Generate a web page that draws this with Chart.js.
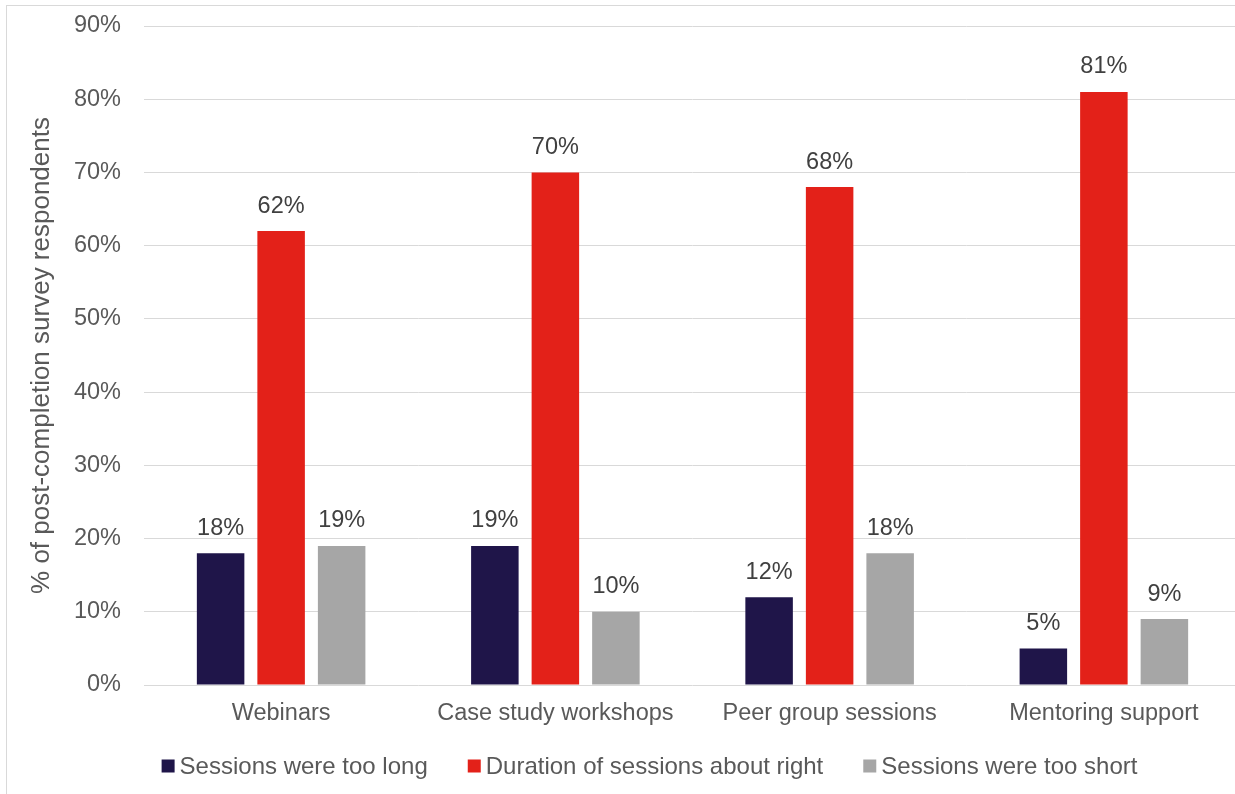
<!DOCTYPE html>
<html>
<head>
<meta charset="utf-8">
<script src="https://cdn.jsdelivr.net/npm/chart.js@4/dist/chart.umd.min.js"></script>
<style>
  html, body { margin: 0; padding: 0; background: #ffffff; overflow: hidden; width: 1235px; height: 794px; }
  #frame {
    position: absolute; left: 6px; top: 5px;
    border-left: 1px solid #d9d9d9; border-top: 1px solid #d9d9d9;
    width: 1285px; height: 789px;
  }
  #wrap { position: relative; width: 1285px; height: 789px; }
</style>
</head>
<body>
<div id="frame"><div id="wrap"><canvas id="chart"></canvas></div></div>
<script>
// Session formats surveyed
const categories = ['Webinars', 'Case study workshops', 'Peer group sessions', 'Mentoring support'];

// Share of post-completion survey respondents (%)
const tooLong    = [18, 19, 12, 5];
const aboutRight = [62, 70, 68, 81];
const tooShort   = [19, 10, 18, 9];

const seriesNames = ['Sessions were too long', 'Duration of sessions about right', 'Sessions were too short'];
const seriesColors = ['#1f1549', '#e32119', '#a6a6a6'];

const yTicks = [0, 10, 20, 30, 40, 50, 60, 70, 80, 90];

const FONT = '"Liberation Sans", Arial, sans-serif';

// Percentage labels above each bar
const valueLabels = {
  id: 'valueLabels',
  afterDatasetsDraw(chart) {
    const ctx = chart.ctx;
    ctx.save();
    ctx.font = '23.5px ' + FONT;
    ctx.fillStyle = '#404040';
    ctx.textAlign = 'center';
    ctx.textBaseline = 'middle';
    chart.data.datasets.forEach((ds, i) => {
      const meta = chart.getDatasetMeta(i);
      meta.data.forEach((bar, j) => {
        ctx.fillText(ds.data[j] + '%', bar.x, bar.y - 25);
      });
    });
    ctx.restore();
  }
};

// Legend row centred under the chart
const bottomLegend = {
  id: 'bottomLegend',
  afterDraw(chart) {
    const ctx = chart.ctx;
    const box = 13, textGap = 5, itemGap = 40;
    ctx.save();
    ctx.font = '24px ' + FONT;
    const widths = chart.data.datasets.map(ds => ctx.measureText(ds.label).width);
    const total = widths.reduce((a, w) => a + box + textGap + w, 0) + itemGap * (widths.length - 1);
    let x = chart.width / 2 - total / 2;
    const y = chart.scales.x.bottom + 39;
    ctx.textBaseline = 'middle';
    ctx.textAlign = 'left';
    chart.data.datasets.forEach((ds, i) => {
      ctx.fillStyle = ds.backgroundColor;
      ctx.fillRect(x, y - box / 2, box, box);
      ctx.fillStyle = '#595959';
      ctx.fillText(ds.label, x + box + textGap, y + 1);
      x += box + textGap + widths[i] + itemGap;
    });
    ctx.restore();
  }
};

const datasets = [tooLong, aboutRight, tooShort].map((values, i) => ({
  label: seriesNames[i],
  data: values,
  backgroundColor: seriesColors[i],
  borderWidth: 0,
  categoryPercentage: 0.662,
  barPercentage: 0.785
}));

new Chart(document.getElementById('chart'), {
  type: 'bar',
  data: { labels: categories, datasets },
  options: {
    responsive: true,
    maintainAspectRatio: false,
    animation: false,
    layout: { padding: { left: 10, right: 51, top: 20, bottom: 68 } },
    plugins: {
      legend: { display: false },
      tooltip: { enabled: false }
    },
    scales: {
      x: {
        afterFit(scale) { scale.height = 42; },
        grid: { display: false, drawTicks: false },
        border: { display: false },
        ticks: {
          color: '#595959',
          font: { family: FONT, size: 23.5 },
          padding: 14,
          maxRotation: 0
        }
      },
      y: {
        min: 0,
        max: 90,
        afterFit(scale) {
          scale.width = 127;
          scale.paddingTop = 0;
          scale.paddingBottom = 0;
        },
        afterBuildTicks(scale) { scale.ticks = yTicks.map(v => ({ value: v })); },
        grid: { color: '#d9d9d9', lineWidth: 1, drawTicks: false },
        border: { display: false },
        ticks: {
          color: '#595959',
          font: { family: FONT, size: 23.5 },
          padding: 23,
          callback: v => v + '%'
        },
        title: {
          display: true,
          text: '% of post-completion survey respondents',
          color: '#595959',
          font: { family: FONT, size: 26 },
          padding: { top: 9, bottom: 16 }
        }
      }
    }
  },
  plugins: [valueLabels, bottomLegend]
});
</script>
</body>
</html>
